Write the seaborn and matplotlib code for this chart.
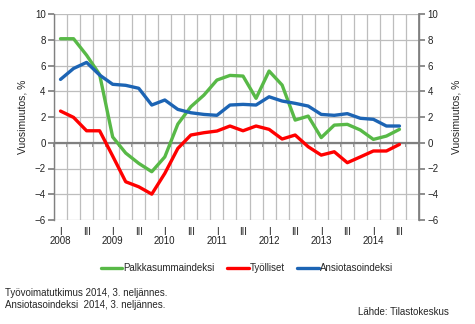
import matplotlib
matplotlib.use("Agg")
import matplotlib.pyplot as plt
import seaborn as sns
import numpy as np
import pandas as pd

years = ["2008", "2009", "2010", "2011", "2012", "2013", "2014"]
quarters = [f"{y}Q{q}" for y in years for q in range(1, 5)]
quarter_labels = ["I", "", "III", ""] * 7

palkkasumma = [8.08, 8.08, 6.8, 5.3, 0.45, -0.8, -1.6, -2.25, -1.1, 1.45, 2.8, 3.7, 4.87,
               5.23, 5.18, 3.45, 5.57, 4.48, 1.76, 2.07, 0.4, 1.37, 1.43, 0.99, 0.26, 0.52, 1.04]
tyolliset = [2.46, 1.97, 0.93, 0.93, -1.03, -3.03, -3.42, -3.99, -2.38, -0.44, 0.6, 0.78, 0.91,
             1.3, 0.93, 1.3, 1.04, 0.29, 0.6, -0.31, -0.96, -0.7, -1.55, -1.1, -0.64, -0.64, -0.13]
ansiotaso = [4.92, 5.77, 6.24, 5.26, 4.54, 4.46, 4.23, 2.93, 3.32, 2.59, 2.33, 2.2, 2.13,
             2.93, 2.98, 2.93, 3.57, 3.24, 3.06, 2.85, 2.2, 2.13, 2.26, 1.9, 1.82, 1.3, 1.3]

series_names = ["Palkkasummaindeksi", "Työlliset", "Ansiotasoindeksi"]
colors = ["#58B947", "#FF0000", "#1C64B4"]

n = len(palkkasumma)
df = pd.DataFrame({
    "pos": list(range(n)) * 3,
    "value": palkkasumma + tyolliset + ansiotaso,
    "series": [series_names[0]] * n + [series_names[1]] * n + [series_names[2]] * n,
})

sns.set_theme(style="white")
plt.rcParams["font.family"] = ["Liberation Sans", "DejaVu Sans"]

fig = plt.figure(figsize=(4.75, 3.24), dpi=100)
ax = fig.add_axes([54 / 475, 1 - 220 / 324, 365 / 475, 206 / 324])

sns.lineplot(data=df, x="pos", y="value", hue="series", palette=colors,
             hue_order=series_names, linewidth=2.4, ax=ax, legend=True, zorder=3)

ymin, ymax = -6, 10
ax.set_xlim(-0.5, len(quarters) - 0.5)
ax.set_ylim(ymin, ymax)

# gridlines
for b in np.arange(-0.5, len(quarters) + 0.5, 1):
    ax.axvline(b, color="#BDBDBD", lw=0.9, zorder=1)
for yv in range(ymin, ymax + 1, 2):
    ax.axhline(yv, color="#BDBDBD", lw=0.9, zorder=1)
ax.axhline(0, color="#808080", lw=1.6, zorder=2)

for s in ["top", "bottom"]:
    ax.spines[s].set_visible(False)
for s in ["left", "right"]:
    ax.spines[s].set_color("#808080")
    ax.spines[s].set_linewidth(1.0)

ax.set_yticks(range(ymin, ymax + 1, 2))
ax.tick_params(axis="y", which="both", left=True, right=False, length=4, color="#808080",
               labelsize=7, pad=2, labelcolor="#222222")
ax.set_ylabel("Vuosimuutos, %", fontsize=7.5, labelpad=5)

ax2 = ax.twinx()
ax2.set_ylim(ymin, ymax)
ax2.set_yticks(range(ymin, ymax + 1, 2))
ax2.tick_params(axis="y", length=4, color="#808080", labelsize=7, pad=2, labelcolor="#222222")
for s in ["top", "bottom", "left"]:
    ax2.spines[s].set_visible(False)
ax2.spines["right"].set_color("#808080")
ax2.set_ylabel("Vuosimuutos, %", fontsize=7.5, labelpad=9, rotation=90)
ax2.yaxis.set_label_position("right")

# x axis: labels at bottom
ax.set_xticks(range(len(quarters)))
ax.set_xticklabels(quarter_labels, fontsize=7)
ax.tick_params(axis="x", length=0, pad=5, labelcolor="#222222")
ax.set_xlabel("")
for i, q in enumerate(quarters):
    if q.endswith("Q1"):
        ax.text(i, -0.103, q[:4], transform=ax.get_xaxis_transform(), ha="center",
                va="center", fontsize=7, color="#222222")

# tick marks on zero line
zero_loc = (0 - ymin) / (ymax - ymin)
sec = ax.secondary_xaxis(zero_loc)
sec.set_xticks(np.arange(-0.5, len(quarters) + 0.5, 1))
sec.tick_params(axis="x", length=3, width=1.2, color="#808080", labelbottom=False,
                direction="out")
sec.set_xticklabels([])
sec.spines["bottom"].set_visible(False)

handles, labels = ax.get_legend_handles_labels()
ax.legend_.remove()
for h in handles:
    h.set_linewidth(2.4)
fig.legend(handles, labels, loc="center", bbox_to_anchor=(0.52, 1 - 268 / 324), ncol=3,
           frameon=False, fontsize=7, handlelength=2.2, handletextpad=0.1, columnspacing=1.3)

fig.text(5 / 475, 1 - 293 / 324, "Työvoimatutkimus 2014, 3. neljännes.", fontsize=7,
         va="center", ha="left")
fig.text(5 / 475, 1 - 305 / 324, "Ansiotasoindeksi  2014, 3. neljännes.", fontsize=7,
         va="center", ha="left")
fig.text(449 / 475, 1 - 312 / 324, "Lähde: Tilastokeskus", fontsize=7, va="center", ha="right")

fig.savefig("out.png", dpi=100)
